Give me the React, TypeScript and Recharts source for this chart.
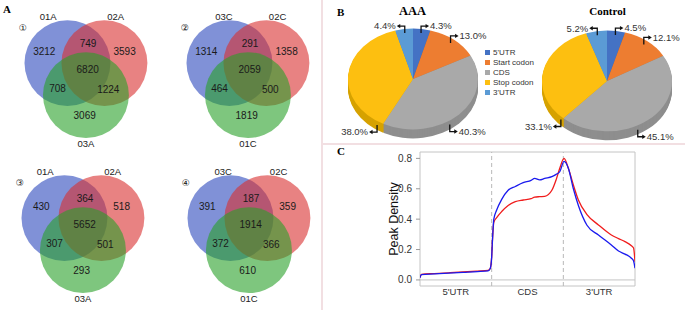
import React from 'react';
import {
  ScatterChart, Scatter, XAxis, YAxis, PieChart, Pie, Cell, Legend,
  LineChart, Line, ReferenceLine, ReferenceArea,
} from 'recharts';

// ---------- A: Venn counts (region order: only1, 1&2, only2, all, 1&3, 2&3, only3)
const VENN_SETS_1 = ['01A', '02A', '03A'];
const VENN_COUNTS_1 = [3212, 749, 3593, 6820, 708, 1224, 3069];
const VENN_SETS_2 = ['03C', '02C', '01C'];
const VENN_COUNTS_2 = [1314, 291, 1358, 2059, 464, 500, 1819];
const VENN_SETS_3 = ['01A', '02A', '03A'];
const VENN_COUNTS_3 = [430, 364, 518, 5652, 307, 501, 293];
const VENN_SETS_4 = ['03C', '02C', '01C'];
const VENN_COUNTS_4 = [391, 187, 359, 1914, 372, 366, 610];
const VENN_TAGS = ['\u2460', '\u2461', '\u2462', '\u2463'];

// ---------- B: peak distribution (%)
const PIE_NAMES = ["5'UTR", 'Start codon', 'CDS', 'Stop codon', "3'UTR"];
const AAA_SHARE = [4.3, 13.0, 40.3, 38.0, 4.4];
const CONTROL_SHARE = [4.5, 12.1, 45.1, 33.1, 5.2];

// ---------- C: metagene peak density
const POSITION = [0, 0.02, 0.2, 0.4, 0.6, 0.8, 0.95, 0.98, 1.0, 1.01, 1.03, 1.07, 1.14, 1.23, 1.33, 1.44, 1.55, 1.6, 1.67, 1.74, 1.84, 1.9, 1.95, 2.01, 2.07, 2.14, 2.21, 2.33, 2.49, 2.67, 2.77, 2.86, 2.95, 2.98, 3.0];
const DENSITY_BLUE = [0.015, 0.035, 0.04, 0.045, 0.05, 0.055, 0.06, 0.075, 0.15, 0.25, 0.4, 0.46, 0.53, 0.59, 0.615, 0.64, 0.655, 0.668, 0.658, 0.668, 0.68, 0.695, 0.712, 0.78, 0.735, 0.6, 0.49, 0.36, 0.296, 0.23, 0.19, 0.17, 0.143, 0.125, 0.077];
const DENSITY_RED = [0.015, 0.037, 0.042, 0.047, 0.052, 0.058, 0.063, 0.075, 0.15, 0.25, 0.38, 0.41, 0.45, 0.49, 0.515, 0.526, 0.535, 0.545, 0.548, 0.55, 0.59, 0.66, 0.735, 0.8, 0.735, 0.625, 0.526, 0.43, 0.362, 0.296, 0.272, 0.252, 0.225, 0.21, 0.12];
const REGION_TICKS = [0.5, 1.5, 2.5];
const REGION_NAMES = ["5'UTR", 'CDS', "3'UTR"];
const Y_TICKS = [0, 0.2, 0.4, 0.6, 0.8];

// venn layout (unit = circle radius)
const VW = 162;
const VH = 155;
const VX: [number, number] = [-2, 1.77];
const VY: [number, number] = [-2.14, 1.47];
const UNIT = VW / (VX[1] - VX[0]);
const CIRCLE_POS = [{ x: -0.43, y: 0 }, { x: 0.43, y: 0 }, { x: 0, y: -0.745 }];
const REGION_POS = [[-0.97, 0.26], [0.05, 0.45], [0.9, 0.26], [0.04, -0.16], [-0.66, -0.59], [0.52, -0.61], [-0.03, -1.21]];
const VENN_FILL = ['#2b48bc', '#d92f2f', '#28a028'];

function Venn({ sets, counts, tag, left, top, leftNameX }: any) {
  const regions = REGION_POS.map(([x, y], i) => ({ x, y, count: counts[i] }));
  const names = [
    { x: leftNameX, y: 1.08, name: sets[0] },
    { x: 0.69, y: 1.08, name: sets[1] },
    { x: 0, y: -1.88, name: sets[2] },
  ];
  return (
    <div style={{ position: 'absolute', left, top }}>
      <ScatterChart width={VW} height={VH} margin={{ top: 0, right: 0, bottom: 0, left: 0 }}>
        <XAxis type="number" dataKey="x" domain={VX} hide allowDataOverflow />
        <YAxis type="number" dataKey="y" domain={VY} hide allowDataOverflow />
        {CIRCLE_POS.map((c, i) => (
          <Scatter key={i} data={[c]} isAnimationActive={false}
            shape={(p: any) => <circle cx={p.cx} cy={p.cy} r={UNIT} fill={VENN_FILL[i]} fillOpacity={0.6} />} />
        ))}
        <Scatter data={regions} isAnimationActive={false}
          shape={(p: any) => (
            <text x={p.cx} y={p.cy} dy="0.35em" textAnchor="middle" fontSize={10} fill="#1a1a1a"
              fontFamily="Liberation Sans, Arial, sans-serif">{p.payload.count}</text>
          )} />
        <Scatter data={names} isAnimationActive={false}
          shape={(p: any) => (
            <text x={p.cx} y={p.cy} dy="0.35em" textAnchor="middle" fontSize={9.5} fill="#222"
              fontFamily="Liberation Sans, Arial, sans-serif">{p.payload.name}</text>
          )} />
        <Scatter data={[{ x: -1.47, y: 0.81 }]} isAnimationActive={false}
          shape={(p: any) => (
            <text x={p.cx} y={p.cy} dy="0.35em" textAnchor="middle" fontSize={9} fill="#111"
              fontFamily="DejaVu Sans, sans-serif">{tag}</text>
          )} />
      </ScatterChart>
    </div>
  );
}

// 3D pie settings
const PIE_TOP = ['#4472c4', '#ed7d31', '#a9a9a9', '#fdbf10', '#5b9bd5'];
const PIE_SIDE = ['#3a5c9e', '#c2651f', '#8e8e8e', '#d6a200', '#4a86bd'];
const K = 0.775;
const RX = 65;
const DEPTH = 9;
const LABEL_FRACTION = [0.5, 0.5, 0.55, 0.07, 0.5];
const B_LEFT = 322;
const B_W = 363;
const B_H = 145;
const PIES = [
  { values: AAA_SHARE, cx: 413 - B_LEFT, cy: 79 },
  { values: CONTROL_SHARE, cx: 607 - B_LEFT, cy: 81 },
];

function pieLabel(p: any) {
  const { cx, cy, index, value } = p;
  const f = LABEL_FRACTION[index];
  const a = ((p.startAngle + (p.endAngle - p.startAngle) * f) * Math.PI) / 180;
  const below = Math.sin(a) < 0;
  const right = Math.cos(a) >= 0;
  const x = cx + RX * 0.92 * Math.cos(a);
  const y = cy - RX * K * 0.92 * Math.sin(a) + (below ? DEPTH : 0);
  const vy = y + (below ? 7 : -7);
  const hx = x + (right ? 8 : -8);
  const s = right ? 1 : -1;
  return (
    <g key={`l${cx}-${index}`}>
      <polyline points={`${x},${y} ${x},${vy} ${hx - s * 2},${vy}`} fill="none" stroke="#111" strokeWidth={1.3} />
      <path d={`M${hx},${vy} L${hx - s * 3.5},${vy - 2.2} L${hx - s * 3.5},${vy + 2.2} Z`} fill="#111" />
      <text x={hx + s * 1} y={vy} dy="0.35em" textAnchor={right ? 'start' : 'end'} fontSize={9.5} fill="#333"
        fontFamily="Liberation Sans, Arial, sans-serif">{`${value.toFixed(1)}%`}</text>
    </g>
  );
}

const densityData = POSITION.map((p, i) => ({ pos: p, blue: DENSITY_BLUE[i], red: DENSITY_RED[i] }));

const serif = 'Liberation Serif, Times New Roman, serif';

export default function App() {
  const sideSteps = Array.from({ length: DEPTH }, (_, i) => DEPTH - i);
  return (
    <div style={{ position: 'absolute', left: 0, top: 0, width: 685, height: 310, background: '#fff', overflow: 'hidden', fontFamily: 'Liberation Sans, Arial, sans-serif' }}>
      {/* dividers */}
      <div style={{ position: 'absolute', left: 321, top: 0, width: 1.5, height: 310, background: '#f2dfe2' }} />
      <div style={{ position: 'absolute', left: 321, top: 143, width: 364, height: 1.5, background: '#f2dfe2' }} />

      <div style={{ position: 'absolute', left: 3, top: 3, fontFamily: serif, fontWeight: 'bold', fontSize: 11 }}>A</div>
      <div style={{ position: 'absolute', left: 337, top: 6, fontFamily: serif, fontWeight: 'bold', fontSize: 11 }}>B</div>
      <div style={{ position: 'absolute', left: 337, top: 145, fontFamily: serif, fontWeight: 'bold', fontSize: 11 }}>C</div>

      <Venn sets={VENN_SETS_1} counts={VENN_COUNTS_1} tag={VENN_TAGS[0]} left={0} top={0} leftNameX={-0.88} />
      <Venn sets={VENN_SETS_2} counts={VENN_COUNTS_2} tag={VENN_TAGS[1]} left={162} top={0} leftNameX={-0.56} />
      <Venn sets={VENN_SETS_3} counts={VENN_COUNTS_3} tag={VENN_TAGS[2]} left={-3} top={155} leftNameX={-0.88} />
      <Venn sets={VENN_SETS_4} counts={VENN_COUNTS_4} tag={VENN_TAGS[3]} left={163} top={155} leftNameX={-0.6} />

      {/* B: tilted pies (vertically squashed) */}
      <div style={{ position: 'absolute', left: B_LEFT, top: 0, width: B_W, height: B_H }}>
        <div style={{ transform: `scaleY(${K})`, transformOrigin: '0 0', width: B_W, height: B_H / K }}>
          <PieChart width={B_W} height={B_H / K} margin={{ top: 0, right: 0, bottom: 0, left: 0 }}>
            {PIES.map((pie, pi) => [
              ...sideSteps.map((d) => (
                <Pie key={`s${pi}-${d}`} data={pie.values.map((v, i) => ({ name: PIE_NAMES[i], value: v }))}
                  dataKey="value" cx={pie.cx} cy={(pie.cy + d) / K} outerRadius={RX}
                  startAngle={90} endAngle={-270} stroke="none" isAnimationActive={false}>
                  {pie.values.map((_, i) => <Cell key={i} fill={PIE_SIDE[i]} />)}
                </Pie>
              )),
              <Pie key={`t${pi}`} data={pie.values.map((v, i) => ({ name: PIE_NAMES[i], value: v }))}
                dataKey="value" cx={pie.cx} cy={pie.cy / K} outerRadius={RX}
                startAngle={90} endAngle={-270} stroke="none" isAnimationActive={false}>
                {pie.values.map((_, i) => <Cell key={i} fill={PIE_TOP[i]} />)}
              </Pie>,
            ])}
          </PieChart>
        </div>
      </div>

      {/* B: labels + legend */}
      <div style={{ position: 'absolute', left: B_LEFT, top: 0 }}>
        <PieChart width={B_W} height={B_H} margin={{ top: 0, right: 0, bottom: 0, left: 0 }}>
          {PIES.map((pie, pi) => (
            <Pie key={`o${pi}`} data={pie.values.map((v, i) => ({ name: PIE_NAMES[i], value: v }))}
              dataKey="value" cx={pie.cx} cy={pie.cy} outerRadius={RX}
              startAngle={90} endAngle={-270} stroke="none" fill="transparent"
              label={pieLabel} labelLine={false} isAnimationActive={false}>
              {pie.values.map((_, i) => <Cell key={i} fill="transparent" />)}
            </Pie>
          ))}
          <Legend layout="vertical" align="right" verticalAlign="top"
            wrapperStyle={{ left: 163, top: 47, width: 80 }}
            content={() => (
              <div>
                {PIE_NAMES.map((n, i) => (
                  <div key={n} style={{ display: 'flex', alignItems: 'center', height: 10, fontSize: 8, color: '#333', whiteSpace: 'nowrap' }}>
                    <span style={{ display: 'inline-block', width: 5, height: 5, background: PIE_TOP[i], marginRight: 3 }} />
                    {n}
                  </div>
                ))}
              </div>
            )} />
        </PieChart>
      </div>
      <div style={{ position: 'absolute', left: 390, top: 4, width: 45, textAlign: 'center', fontFamily: serif, fontWeight: 'bold', fontSize: 12.5 }}>AAA</div>
      <div style={{ position: 'absolute', left: 580, top: 5, width: 55, textAlign: 'center', fontFamily: serif, fontWeight: 'bold', fontSize: 11 }}>Control</div>

      {/* C: density */}
      <div style={{ position: 'absolute', left: 330, top: 145 }}>
        <LineChart width={310} height={160} data={densityData} margin={{ top: 7, right: 5, bottom: 0, left: 0 }}>
          <XAxis type="number" dataKey="pos" domain={[0, 3]} ticks={REGION_TICKS} allowDataOverflow
            tickFormatter={(v: number) => REGION_NAMES[REGION_TICKS.indexOf(v)]}
            axisLine={false} tickLine={false} tickSize={0} tickMargin={2} height={19}
            tick={{ fontSize: 9.5, fill: '#333' }} />
          <YAxis type="number" domain={[-0.04, 0.842]} ticks={Y_TICKS} allowDataOverflow width={90}
            tickFormatter={(v: number) => v.toFixed(1)} axisLine={false}
            tickLine={{ stroke: '#999' }} tickSize={4} tickMargin={4}
            tick={{ fontSize: 10, fill: '#333' }}
            label={{
              content: (p: any) => {
                const vb = p.viewBox || { x: 0, y: 7, height: 134 };
                const tx = vb.x + 64;
                const ty = vb.y + vb.height / 2;
                return (
                  <text transform={`translate(${tx},${ty}) rotate(-90)`} textAnchor="middle" dy="0.35em"
                    fontSize={12.5} fill="#111" fontFamily="Liberation Sans, Arial, sans-serif">Peak Density</text>
                );
              },
            }} />
          <ReferenceArea x1={0} x2={3} y1={-0.04} y2={0.842} fill="#fff" fillOpacity={0} stroke="#c4c4c4" strokeWidth={1} ifOverflow="visible" />
          <ReferenceLine y={0} stroke="#c4c4c4" strokeWidth={1} />
          <ReferenceLine x={1} stroke="#b8b8b8" strokeDasharray="4 3" />
          <ReferenceLine x={2} stroke="#b8b8b8" strokeDasharray="4 3" />
          <Line type="monotone" dataKey="red" stroke="#f01c1c" strokeWidth={1.3} dot={false} isAnimationActive={false} />
          <Line type="monotone" dataKey="blue" stroke="#1a1aee" strokeWidth={1.3} dot={false} isAnimationActive={false} />
        </LineChart>
      </div>
    </div>
  );
}
